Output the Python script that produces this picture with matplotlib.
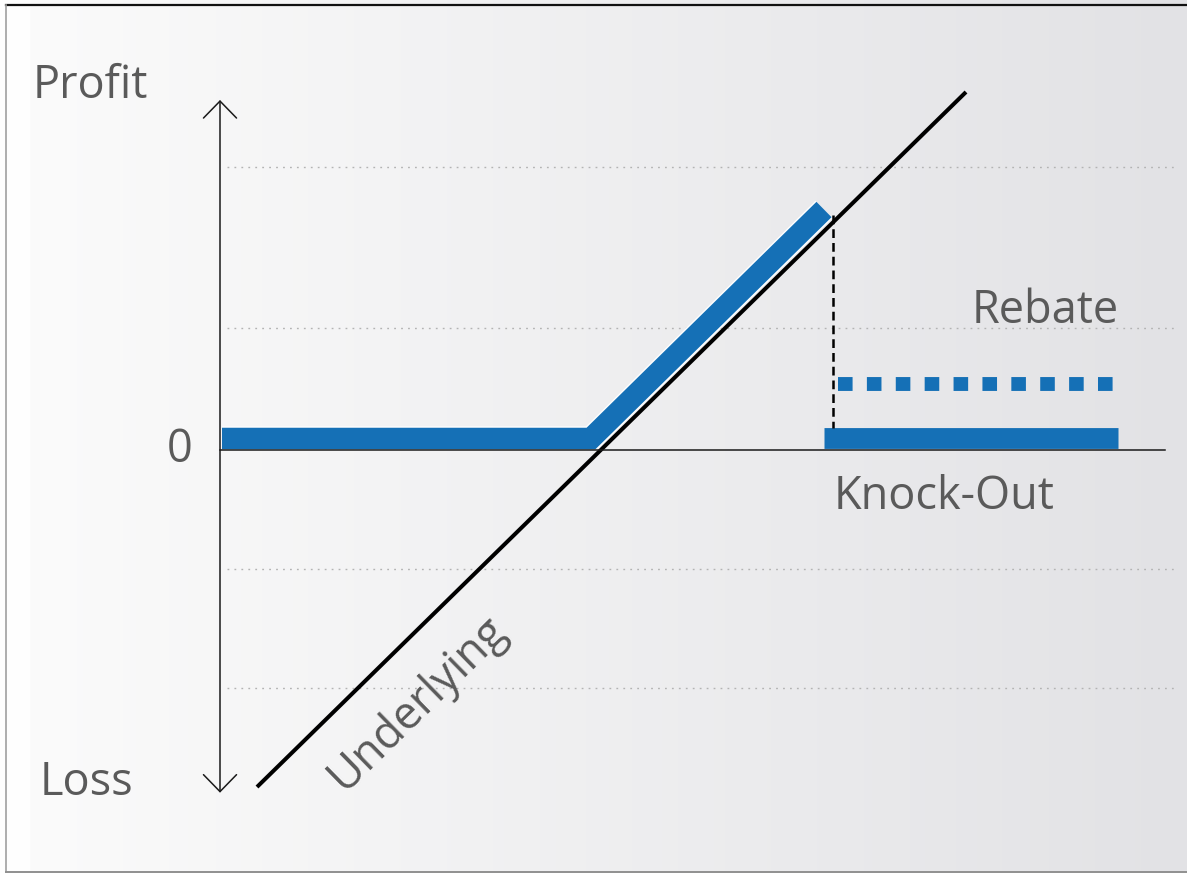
import numpy as np
import matplotlib
matplotlib.use("Agg")
import matplotlib.pyplot as plt
from matplotlib.patches import FancyArrowPatch
from matplotlib.lines import Line2D
import matplotlib.patheffects as pe

# ---- data (profit diagram, arbitrary units) ----
underlying_x = [0.37, 7.46]
underlying_y = [-3.37, 3.58]

payoff_x = [0.02, 3.71, 6.04]
payoff_y = [0.115, 0.115, 2.405]

knockout_x = [6.04, 8.98]
knockout_y = [0.12, 0.12]

rebate_x = [6.183, 8.93]
rebate_y = [0.663, 0.663]

barrier_x = [6.13, 6.13]
barrier_y = [2.35, 0.22]

grid_levels = [2.83, 1.22, -1.19, -2.38]
grid_x = [0.07, 9.57]

axis_x = [0.0, 9.45]
arrow_y = [-3.427, 3.5]

labels = {"Profit": (-1.875, 3.52), "Loss": (-1.805, -3.45),
          "Rebate": (7.52, 1.27), "Knock-Out": (6.14, -0.59)}
zero_label = ("0", -0.405, -0.12)
underlying_label = ("Underlying", 1.24, -3.42)

BLUE = "#1570B6"
TXT = "#5a5a5a"
FONT = ["Open Sans", "DejaVu Sans"]
FS = 32.5

fig = plt.figure(figsize=(11.87, 8.73), dpi=100)

# background gradient
bg = fig.add_axes([0, 0, 1, 1])
bg.set_axis_off()
w = 1187
xs = np.arange(w)
t = np.clip((xs - 30) / (w - 30), 0, 1)
left = np.array([251, 251, 251]) / 255
right = np.array([226, 226, 229]) / 255
row = left[None, :] * (1 - t[:, None]) + right[None, :] * t[:, None]
row[xs < 30] = np.array([254, 254, 254]) / 255
img = np.repeat(row[None, :, :], 4, axis=0)
bg.imshow(img, aspect="auto", extent=[0, 1, 0, 1])
bg.set_xlim(0, 1)
bg.set_ylim(0, 1)

ax = fig.add_axes([0, 0, 1, 1])
ax.set_axis_off()
ax.patch.set_alpha(0)
ax.set_xlim(-2.20, 9.67)
ax.set_ylim(-4.23, 4.50)

# gridlines
for g in grid_levels:
    ax.plot(grid_x, [g, g], color="#b3b3b3", lw=1.0,
            linestyle=(0, (1.3, 3.7)), zorder=1)

# underlying
ax.plot(underlying_x, underlying_y, color="black", lw=2.9,
        solid_capstyle="butt", zorder=3)

# payoff (blue)
ax.plot(payoff_x, payoff_y, color=BLUE, lw=15.5, solid_capstyle="butt",
        solid_joinstyle="miter", zorder=4,
        path_effects=[pe.Stroke(linewidth=17.5, foreground="white"), pe.Normal()])

# knock-out bar
ax.plot(knockout_x, knockout_y, color=BLUE, lw=15.0, solid_capstyle="butt", zorder=4)

# rebate dotted
ax.plot(rebate_x, rebate_y, color=BLUE, lw=10.0, dash_capstyle="butt",
        linestyle=(0, (1.05, 1.03)), zorder=4)

# barrier dashed vertical
ax.plot(barrier_x, barrier_y, color="black", lw=1.8,
        linestyle=(0, (3.5, 2.0)), dash_capstyle="butt", zorder=5)

# horizontal axis
ax.plot(axis_x, [0, 0], color="#1a1a1a", lw=1.1, zorder=6)

# vertical double arrow
arr = FancyArrowPatch((0, arrow_y[0]), (0, arrow_y[1]),
                      arrowstyle="<->,head_length=1.22,head_width=1.19",
                      mutation_scale=10, lw=1.1, color="#1a1a1a",
                      shrinkA=0, shrinkB=0, zorder=6)
ax.add_patch(arr)

# texts
for s, (x, y) in labels.items():
    ax.text(x, y, s, fontsize=FS, color=TXT, family=FONT,
            ha="left", va="baseline", zorder=7)
ax.text(zero_label[1], zero_label[2], zero_label[0], fontsize=FS, color=TXT,
        family=FONT, ha="center", va="baseline", zorder=7)
ax.text(underlying_label[1], underlying_label[2], underlying_label[0],
        fontsize=FS, color=TXT, family=FONT, rotation=44.4,
        rotation_mode="anchor", ha="left", va="baseline", zorder=7)

# frame lines
fig.add_artist(Line2D([6 / w, 1], [1 - 5 / 873, 1 - 5 / 873], color="#111111", lw=1.6))
fig.add_artist(Line2D([6 / w, 6 / w], [1 - 5 / 873, 1 / 873], color="#a0a0a0", lw=1.2))
fig.add_artist(Line2D([6 / w, 1], [1.2 / 873, 1.2 / 873], color="#909090", lw=1.4))

fig.savefig("out.png", dpi=100)
